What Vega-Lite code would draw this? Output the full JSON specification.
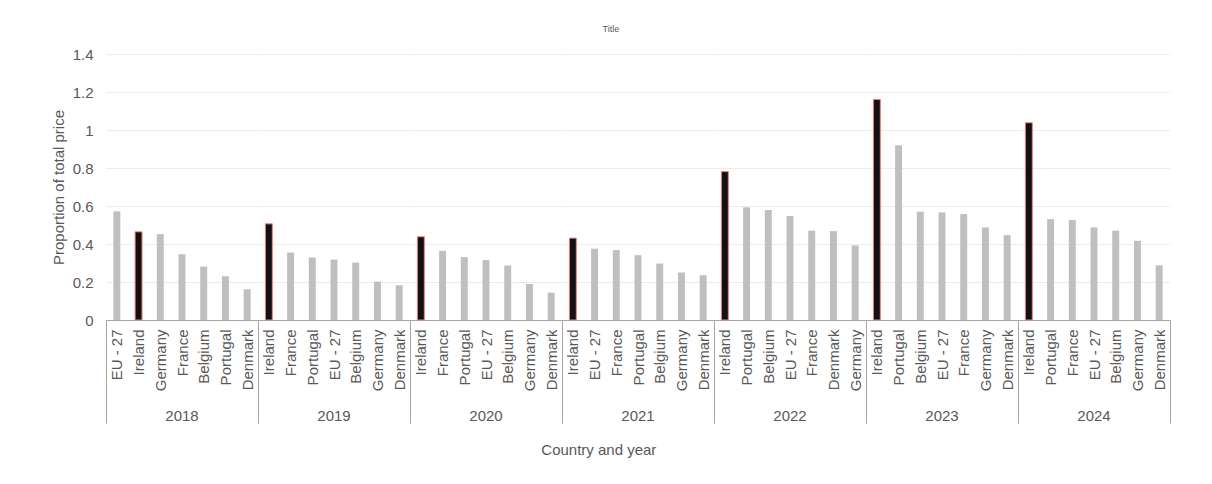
{
  "$schema": "https://vega.github.io/schema/vega-lite/v6.json",
  "background": "white",
  "padding": {"left": 51, "top": 25, "right": 5, "bottom": 5},
  "config": {
    "font": "Liberation Sans",
    "view": {"stroke": null},
    "concat": {"spacing": 0}
  },
  "title": {
    "text": "Title",
    "fontSize": 9,
    "fontWeight": "normal",
    "color": "#595959",
    "anchor": "middle",
    "frame": "bounds",
    "offset": 13
  },
  "vconcat": [
    {
      "title": {
        "text": "Country and year",
        "orient": "bottom",
        "fontSize": 15,
        "fontWeight": "normal",
        "color": "#595959",
        "anchor": "middle",
        "dx": -12,
        "offset": 19
      },
      "data": {
        "values": [
          {"year": "2018", "rank": 1, "country": "EU - 27", "value": 0.572},
          {"year": "2018", "rank": 2, "country": "Ireland", "value": 0.464},
          {"year": "2018", "rank": 3, "country": "Germany", "value": 0.452},
          {"year": "2018", "rank": 4, "country": "France", "value": 0.346},
          {"year": "2018", "rank": 5, "country": "Belgium", "value": 0.281},
          {"year": "2018", "rank": 6, "country": "Portugal", "value": 0.23},
          {"year": "2018", "rank": 7, "country": "Denmark", "value": 0.162},
          {"year": "2019", "rank": 1, "country": "Ireland", "value": 0.506},
          {"year": "2019", "rank": 2, "country": "France", "value": 0.355},
          {"year": "2019", "rank": 3, "country": "Portugal", "value": 0.329},
          {"year": "2019", "rank": 4, "country": "EU - 27", "value": 0.318},
          {"year": "2019", "rank": 5, "country": "Belgium", "value": 0.302},
          {"year": "2019", "rank": 6, "country": "Germany", "value": 0.202},
          {"year": "2019", "rank": 7, "country": "Denmark", "value": 0.183},
          {"year": "2020", "rank": 1, "country": "Ireland", "value": 0.438},
          {"year": "2020", "rank": 2, "country": "France", "value": 0.364},
          {"year": "2020", "rank": 3, "country": "Portugal", "value": 0.331},
          {"year": "2020", "rank": 4, "country": "EU - 27", "value": 0.315},
          {"year": "2020", "rank": 5, "country": "Belgium", "value": 0.287},
          {"year": "2020", "rank": 6, "country": "Germany", "value": 0.19},
          {"year": "2020", "rank": 7, "country": "Denmark", "value": 0.144},
          {"year": "2021", "rank": 1, "country": "Ireland", "value": 0.431},
          {"year": "2021", "rank": 2, "country": "EU - 27", "value": 0.375},
          {"year": "2021", "rank": 3, "country": "France", "value": 0.368},
          {"year": "2021", "rank": 4, "country": "Portugal", "value": 0.341},
          {"year": "2021", "rank": 5, "country": "Belgium", "value": 0.297},
          {"year": "2021", "rank": 6, "country": "Germany", "value": 0.25},
          {"year": "2021", "rank": 7, "country": "Denmark", "value": 0.236},
          {"year": "2022", "rank": 1, "country": "Ireland", "value": 0.781},
          {"year": "2022", "rank": 2, "country": "Portugal", "value": 0.593},
          {"year": "2022", "rank": 3, "country": "Belgium", "value": 0.579},
          {"year": "2022", "rank": 4, "country": "EU - 27", "value": 0.547},
          {"year": "2022", "rank": 5, "country": "France", "value": 0.47},
          {"year": "2022", "rank": 6, "country": "Denmark", "value": 0.468},
          {"year": "2022", "rank": 7, "country": "Germany", "value": 0.392},
          {"year": "2023", "rank": 1, "country": "Ireland", "value": 1.161},
          {"year": "2023", "rank": 2, "country": "Portugal", "value": 0.92},
          {"year": "2023", "rank": 3, "country": "Belgium", "value": 0.57},
          {"year": "2023", "rank": 4, "country": "EU - 27", "value": 0.566},
          {"year": "2023", "rank": 5, "country": "France", "value": 0.558},
          {"year": "2023", "rank": 6, "country": "Germany", "value": 0.487},
          {"year": "2023", "rank": 7, "country": "Denmark", "value": 0.447},
          {"year": "2024", "rank": 1, "country": "Ireland", "value": 1.038},
          {"year": "2024", "rank": 2, "country": "Portugal", "value": 0.531},
          {"year": "2024", "rank": 3, "country": "France", "value": 0.526},
          {"year": "2024", "rank": 4, "country": "EU - 27", "value": 0.487},
          {"year": "2024", "rank": 5, "country": "Belgium", "value": 0.47},
          {"year": "2024", "rank": 6, "country": "Germany", "value": 0.417},
          {"year": "2024", "rank": 7, "country": "Denmark", "value": 0.288}
        ]
      },
      "facet": {
        "column": {
          "field": "year",
          "type": "ordinal",
          "header": {
            "title": null,
            "labelOrient": "bottom",
            "labelFontSize": 15,
            "labelColor": "#595959",
            "labelPadding": 89
          }
        }
      },
      "spacing": 0,
      "bounds": "flush",
      "resolve": {"scale": {"x": "independent"}},
      "spec": {
        "width": 152,
        "height": 266,
        "mark": {"type": "bar", "strokeWidth": 1},
        "encoding": {
          "x": {
            "field": "country",
            "type": "nominal",
            "sort": {"field": "rank", "op": "min"},
            "scale": {"paddingInner": 0.68, "paddingOuter": 0.34},
            "axis": {
              "title": null,
              "labelAngle": -90,
              "labelFontSize": 15,
              "labelColor": "#595959",
              "labelPadding": -94,
              "labelOffset": 7.38,
              "domainColor": "#a6a6a6",
              "bandPosition": 3.125,
              "tickExtra": true,
              "tickOffset": -7.38,
              "tickSize": 103,
              "tickColor": "#a6a6a6",
              "tickOpacity": {
                "condition": {"test": "datum.index === -1 || datum.index === 1", "value": 1},
                "value": 0
              }
            }
          },
          "y": {
            "field": "value",
            "type": "quantitative",
            "scale": {"domain": [0, 1.4]},
            "axis": {
              "title": "Proportion of total price",
              "titleFontSize": 15,
              "titleFontWeight": "normal",
              "titleColor": "#595959",
              "titlePadding": 6,
              "labelFontSize": 15,
              "labelColor": "#595959",
              "labelPadding": 13,
              "domain": false,
              "ticks": false,
              "values": [0, 0.2, 0.4, 0.6, 0.8, 1, 1.2, 1.4],
              "format": "~g",
              "gridColor": "#ebebeb"
            }
          },
          "color": {
            "condition": {"test": "datum.country === 'Ireland'", "value": "#111111"},
            "value": "#bfbfbf"
          },
          "stroke": {
            "condition": {"test": "datum.country === 'Ireland'", "value": "#f08080"},
            "value": null
          }
        }
      }
    }
  ]
}
